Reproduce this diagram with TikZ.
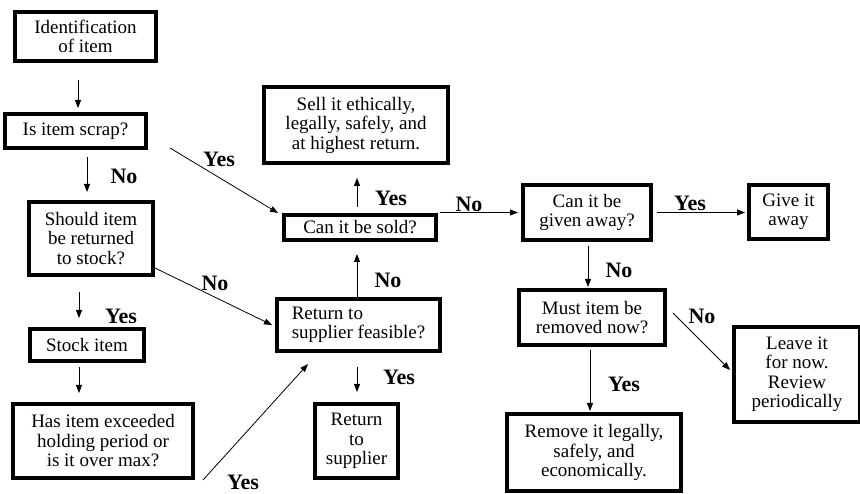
\documentclass[tikz,border=0pt]{standalone}
\usepackage{fontspec}
\setmainfont{Liberation Serif}
\usetikzlibrary{arrows.meta,calc}
\begin{document}
\begin{tikzpicture}[x=1pt,y=-1pt,
  box/.style={draw,line width=3.8pt,align=center,inner sep=0pt,
    font=\fontsize{19}{19.5}\selectfont},
  arr/.style={-{Triangle[length=8pt,width=6pt]},line width=0.8pt},
  lbl/.style={font=\fontsize{22}{24}\selectfont\bfseries,inner sep=0pt}]
\fill[white] (0,0) rectangle (860,494);
\useasboundingbox (0,0) rectangle (860,494);

% process and decision boxes
\node[box,minimum width=141.2pt,minimum height=49.2pt] (ident) at (85.5,36.5) {Identification\\of item};
\node[box,minimum width=141.2pt,minimum height=34.2pt] (scrap) at (75.5,131) {Is item scrap?};
\node[box,minimum width=124.2pt,minimum height=73.2pt] (should) at (91,238.5) {Should item\\be returned\\to stock?};
\node[box,minimum width=114.2pt,minimum height=32.2pt] (stock) at (87,345) {Stock item};
\node[box,minimum width=180.2pt,minimum height=74.2pt] (has) at (103,441) {Has item exceeded\\holding period or\\is it over max?};
\node[box,minimum width=184.2pt,minimum height=76.2pt] (sell) at (356,125) {Sell it ethically,\\legally, safely, and\\at highest return.};
\node[box,minimum width=152.2pt,minimum height=25.2pt] (cansold) at (360,227.5) {Can it be sold?};
\node[box,align=left,minimum width=163.2pt,minimum height=52.2pt] (retfeas) at (358.5,325) {Return to\\supplier feasible?};
\node[box,minimum width=83.2pt,minimum height=74.2pt] (retsup) at (356.5,441) {Return\\to\\supplier};
\node[box,minimum width=128.2pt,minimum height=55.2pt] (given) at (587,212.5) {Can it be\\given away?};
\node[box,minimum width=79.2pt,minimum height=54.2pt] (give) at (788.5,212) {Give it\\away};
\node[box,minimum width=146.2pt,minimum height=55.2pt] (must) at (592,317.5) {Must item be\\removed now?};
\node[box,minimum width=126.2pt,minimum height=95.2pt] (leave) at (797,374.5) {Leave it\\for now.\\Review\\periodically};
\node[box,minimum width=174.2pt,minimum height=77.2pt] (remove) at (594,452.5) {Remove it legally,\\safely, and\\economically.};

% connectors
\draw[arr,shorten <=17pt,shorten >=4pt] ([xshift=-7.5pt]ident.south) -- ([xshift=2.5pt]scrap.north);
\draw[arr,shorten <=7pt,shorten >=8pt] ([xshift=11.5pt]scrap.south) -- ([xshift=-4pt]should.north);
\draw[arr] ([xshift=22pt,yshift=2pt]scrap.south east) -- ([xshift=-4pt]cansold.north west);
\draw[arr] ([yshift=9pt]should.south east) -- ([xshift=-3pt]retfeas.west);
\draw[arr,shorten <=15pt,shorten >=9pt] ([xshift=-12pt]should.south) -- ([xshift=-8pt]stock.north);
\draw[arr,shorten <=4pt,shorten >=9pt] ([xshift=-8pt]stock.south) -- ([xshift=-24pt]has.north);
\draw[arr] ([xshift=8pt]has.south east) -- ([xshift=33pt,yshift=-11pt]retfeas.south west);
\draw[arr,shorten <=14pt,shorten >=10pt] ([xshift=-1.5pt]retfeas.south) -- ([xshift=0.5pt]retsup.north);
\draw[arr,shorten >=12pt] ([xshift=-1.5pt]retfeas.north) -- ([xshift=-3pt]cansold.south);
\draw[arr,shorten <=6pt,shorten >=13pt] ([xshift=-3pt]cansold.north) -- ([xshift=1pt]sell.south);
\draw[arr,shorten <=2pt,shorten >=3pt] (cansold.north east |- given.west) -- (given.west);
\draw[arr,shorten <=4pt,shorten >=2pt] (given.east) -- (given.east -| give.west);
\draw[arr,shorten <=4pt,shorten >=1pt] ([xshift=1pt]given.south) -- ([xshift=-4pt]must.north);
\draw[arr] ([xshift=6pt,yshift=4.5pt]must.east) -- ([xshift=-2pt,yshift=4.5pt]leave.west);
\draw[arr,shorten <=3pt,shorten >=1pt] ([xshift=-2pt]must.south) -- ([xshift=-4pt]remove.north);

% branch labels
\node[lbl] (l1) at (124,176) {No};
\node[lbl] (l2) at (219,159) {Yes};
\node[lbl] (l3) at (215,283) {No};
\node[lbl] (l4) at (121,316) {Yes};
\node[lbl] (l5) at (243,482) {Yes};
\node[lbl] (l6) at (399,377) {Yes};
\node[lbl] (l7) at (388,280) {No};
\node[lbl] (l8) at (391,198) {Yes};
\node[lbl] (l9) at (469,204) {No};
\node[lbl] (l10) at (690,203) {Yes};
\node[lbl] (l11) at (619,270) {No};
\node[lbl] (l12) at (702,316) {No};
\node[lbl] (l13) at (624,384) {Yes};
\end{tikzpicture}
\end{document}
